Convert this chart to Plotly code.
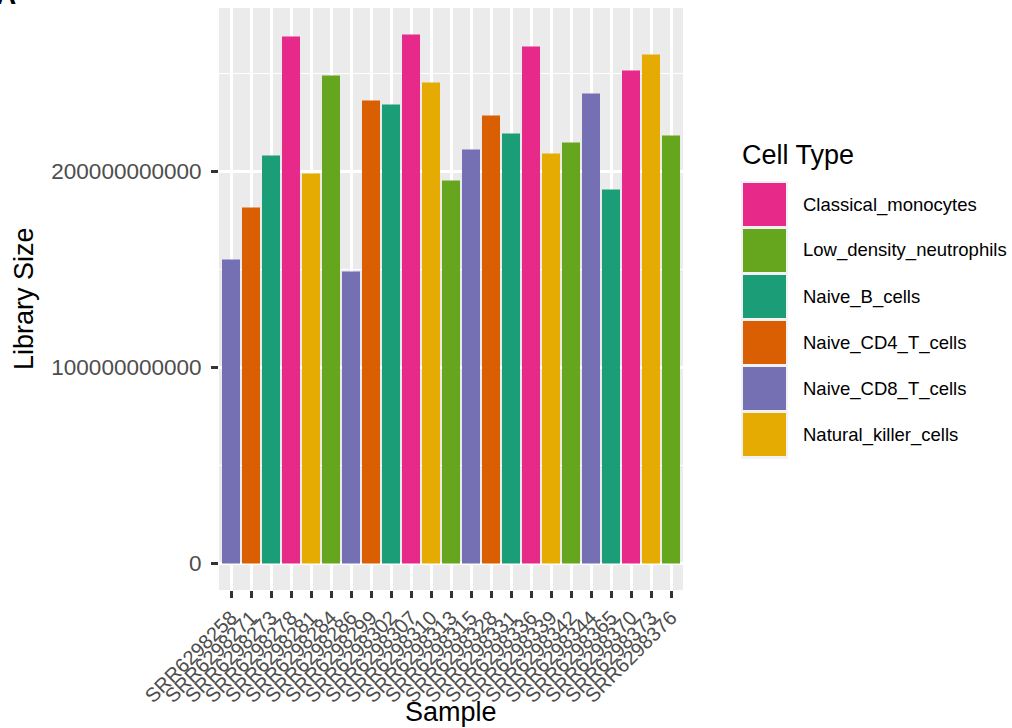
import plotly.graph_objects as go

samples = ["SRR6298258", "SRR6298271", "SRR6298273", "SRR6298278", "SRR6298281",
           "SRR6298284", "SRR6298286", "SRR6298299", "SRR6298302", "SRR6298307",
           "SRR6298310", "SRR6298313", "SRR6298315", "SRR6298328", "SRR6298331",
           "SRR6298336", "SRR6298339", "SRR6298342", "SRR6298344", "SRR6298365",
           "SRR6298370", "SRR6298373", "SRR6298376"]
cell_types = ["Naive_CD8_T_cells", "Naive_CD4_T_cells", "Naive_B_cells", "Classical_monocytes",
              "Natural_killer_cells", "Low_density_neutrophils",
              "Naive_CD8_T_cells", "Naive_CD4_T_cells", "Naive_B_cells", "Classical_monocytes",
              "Natural_killer_cells", "Low_density_neutrophils",
              "Naive_CD8_T_cells", "Naive_CD4_T_cells", "Naive_B_cells", "Classical_monocytes",
              "Natural_killer_cells", "Low_density_neutrophils",
              "Naive_CD8_T_cells", "Naive_B_cells", "Classical_monocytes",
              "Natural_killer_cells", "Low_density_neutrophils"]
library_size = [1.551e11, 1.816e11, 2.082e11, 2.689e11, 1.990e11, 2.490e11,
                1.490e11, 2.362e11, 2.342e11, 2.699e11, 2.454e11, 1.954e11,
                2.112e11, 2.286e11, 2.194e11, 2.638e11, 2.092e11, 2.148e11,
                2.398e11, 1.908e11, 2.515e11, 2.597e11, 2.184e11]
legend_types = ["Classical_monocytes", "Low_density_neutrophils", "Naive_B_cells",
                "Naive_CD4_T_cells", "Naive_CD8_T_cells", "Natural_killer_cells"]
legend_colors = ["#E7298A", "#66A61E", "#1B9E77", "#D95F02", "#7570B3", "#E6AB02"]
y_ticks = [0, 1e11, 2e11]
y_minor = [5e10, 1.5e11, 2.5e11]

color_map = dict(zip(legend_types, legend_colors))

W, H = 1012, 728
L, R, T, B = 219, 683, 8, 590
FONT = "Liberation Sans, Arial, Helvetica, sans-serif"


def px_x(p):
    return (p - L) / (R - L)


def px_y(p):
    return (B - p) / (B - T)


fig = go.Figure()
fig.add_trace(go.Bar(
    x=samples, y=library_size,
    marker=dict(color=[color_map[c] for c in cell_types], line=dict(width=0)),
    width=0.9, showlegend=False, hoverinfo="x+y",
))

ymax = max(library_size)
pad = 0.05 * ymax

fig.update_layout(
    width=W, height=H,
    margin=dict(l=L, r=W - R, t=T, b=H - B, autoexpand=False),
    paper_bgcolor="white", plot_bgcolor="#EBEBEB",
    font=dict(family=FONT, color="black"),
    showlegend=False, bargap=0.1,
)
fig.update_xaxes(
    type="category", range=[-0.6, len(samples) - 0.4],
    tickmode="array", tickvals=samples, ticktext=samples,
    showgrid=True, gridcolor="white", gridwidth=2.6,
    ticks="outside", ticklen=7, tickwidth=2.5, tickcolor="#333333",
    tickangle=-45, tickfont=dict(size=20, color="#4D4D4D", family=FONT),
    showline=False, zeroline=False,
)
fig.update_yaxes(
    range=[-pad, ymax + pad],
    tickvals=y_ticks, tickformat="d",
    showgrid=True, gridcolor="white", gridwidth=2.6,
    minor=dict(tickvals=y_minor, showgrid=True, gridcolor="white", gridwidth=1.3, ticklen=0),
    ticks="outside", ticklen=7, tickwidth=2.5, tickcolor="#333333",
    tickfont=dict(size=22.5, color="#4D4D4D", family=FONT),
    ticklabelstandoff=5,
    showline=False, zeroline=False,
)

annotations = [
    dict(text="Library Size", x=px_x(24), y=px_y(299), xref="paper", yref="paper",
         textangle=-90, showarrow=False, xanchor="center", yanchor="middle",
         font=dict(size=27, color="black", family=FONT)),
    dict(text="Sample", x=px_x(451), y=px_y(712), xref="paper", yref="paper",
         showarrow=False, xanchor="center", yanchor="middle",
         font=dict(size=27, color="black", family=FONT)),
    dict(text="Cell Type", x=px_x(740), y=px_y(155), xref="paper", yref="paper",
         showarrow=False, xanchor="left", yanchor="middle",
         font=dict(size=27, color="black", family=FONT)),
    dict(text="<b>A</b>", x=px_x(-6), y=px_y(12), xref="paper", yref="paper",
         showarrow=False, xanchor="left", yanchor="bottom",
         font=dict(size=28, color="black", family=FONT)),
]
shapes = [dict(type="rect", xref="paper", yref="paper",
               x0=px_x(741), x1=px_x(788), y0=px_y(181), y1=px_y(459),
               fillcolor="#F2F2F2", line=dict(width=0), layer="above")]
for i, (name, col) in enumerate(zip(legend_types, legend_colors)):
    top = 183 + 46 * i
    shapes.append(dict(type="rect", xref="paper", yref="paper",
                       x0=px_x(743), x1=px_x(786), y0=px_y(top + 43), y1=px_y(top),
                       fillcolor=col, line=dict(width=0), layer="above"))
    annotations.append(dict(text=name, x=px_x(801), y=px_y(top + 21.5), xref="paper", yref="paper",
                            showarrow=False, xanchor="left", yanchor="middle",
                            font=dict(size=18.5, color="black", family=FONT)))

fig.update_layout(annotations=annotations, shapes=shapes)
fig.write_html("out.html")
